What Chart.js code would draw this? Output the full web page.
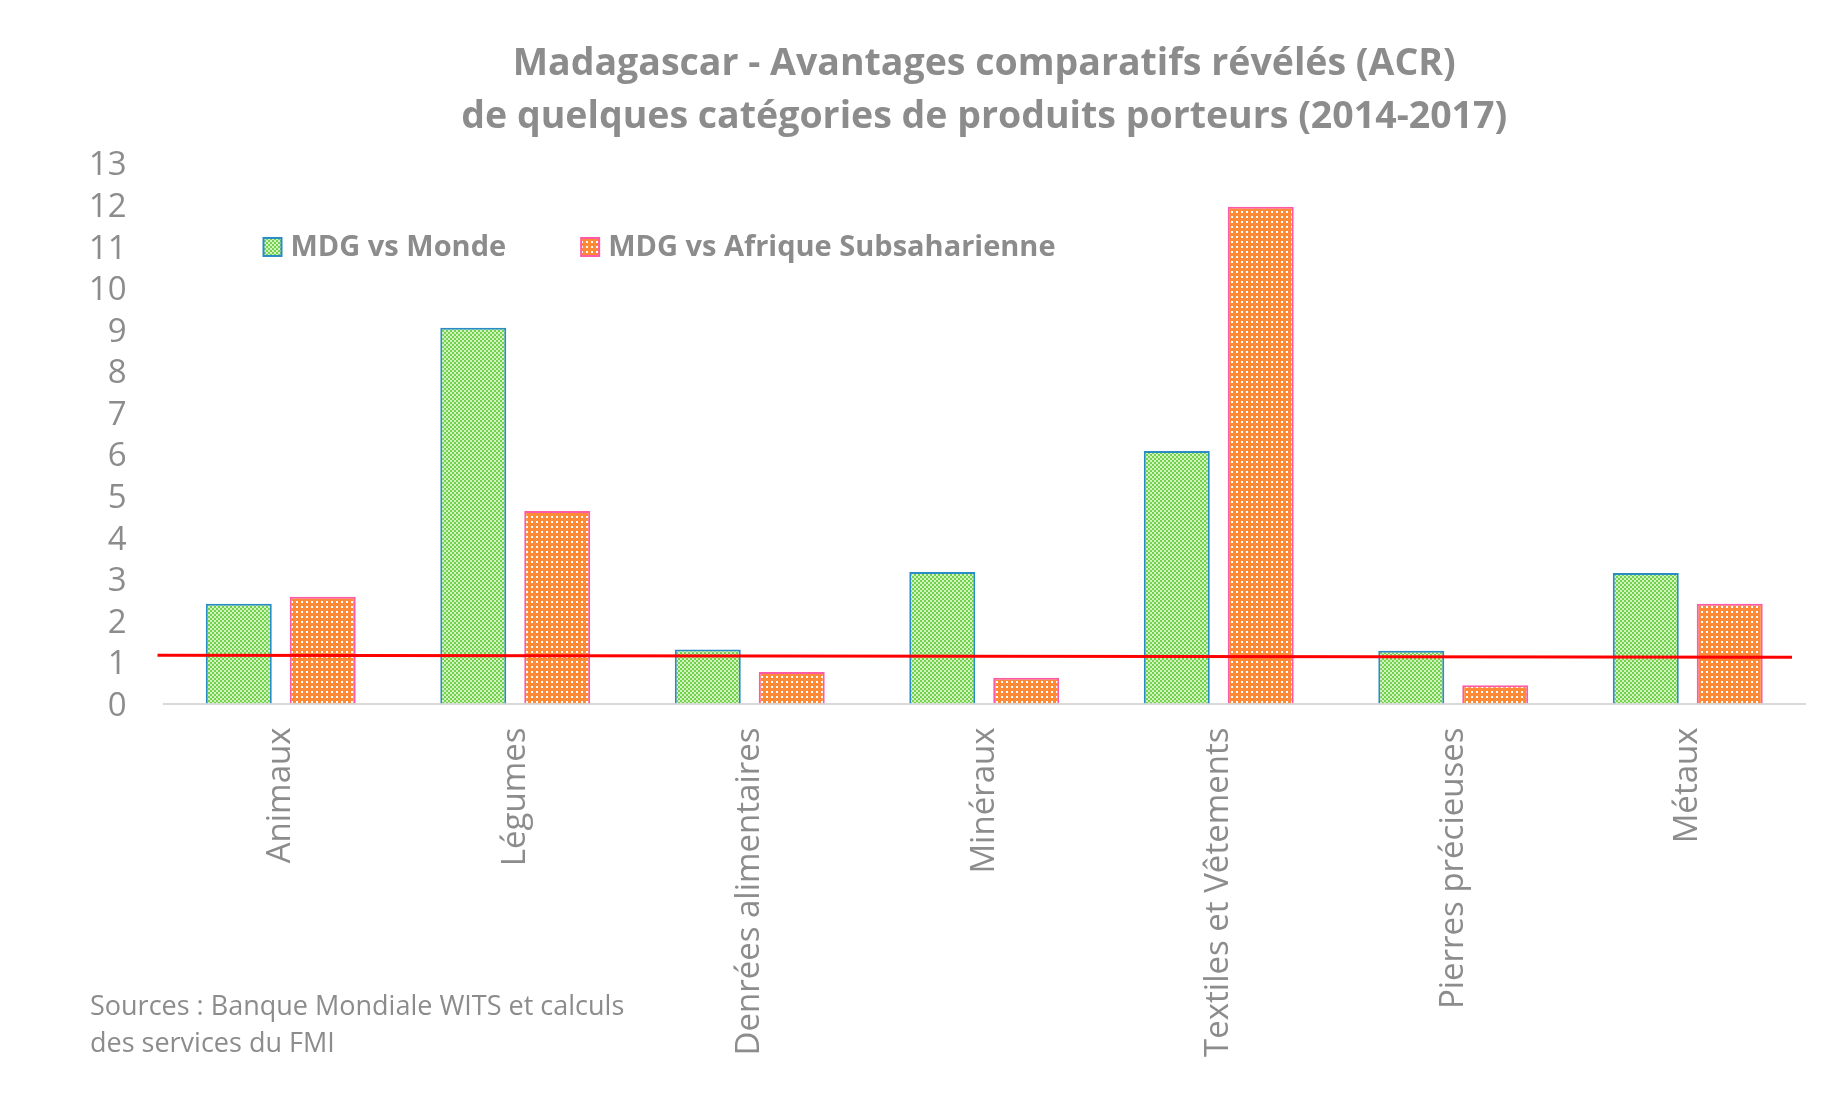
<!DOCTYPE html>
<html>
<head>
<meta charset="utf-8">
<script src="https://cdn.jsdelivr.net/npm/chart.js@4.4.1/dist/chart.umd.min.js"></script>
<style>
  body { margin: 0; background: #fff; }
  canvas { display: block; }
</style>
</head>
<body>
<canvas id="acr" width="1842" height="1105"></canvas>
<script>
const categories = ['Animaux', 'Légumes', 'Denrées alimentaires', 'Minéraux', 'Textiles et Vêtements', 'Pierres précieuses', 'Métaux'];
const mdgMonde = [2.40, 9.04, 1.30, 3.16, 6.07, 1.27, 3.14];
const mdgAfrique = [2.57, 4.63, 0.76, 0.62, 11.95, 0.44, 2.40];
const seriesLabels = ['MDG vs Monde', 'MDG vs Afrique Subsaharienne'];
const yMin = 0, yMax = 13, yStep = 1;
const refLine = [1.16, 1.11]; // red reference line, left end / right end
const titleLines = ['Madagascar - Avantages comparatifs révélés (ACR)', 'de quelques catégories de produits porteurs (2014-2017)'];
const sourceLines = ['Sources : Banque Mondiale WITS et calculs', 'des services du FMI'];

const grey = '#8c8c8c';
const font = 'Open Sans';

// fill patterns like the Excel ones
function makePattern(size, bg, fg, cells) {
  const c = document.createElement('canvas');
  c.width = size; c.height = size;
  const g = c.getContext('2d');
  g.fillStyle = bg;
  g.fillRect(0, 0, size, size);
  g.fillStyle = fg;
  cells.forEach(([x, y, w, h]) => g.fillRect(x, y, w, h));
  return g.createPattern(c, 'repeat');
}
const ctx = document.getElementById('acr').getContext('2d');
const greenFill = makePattern(4, '#d2f3bd', '#72d24e', [[0, 0, 2, 2], [2, 2, 2, 2]]);
const orangeFill = makePattern(5, '#ff8a36', '#ffffff', [[1, 1, 2, 2]]);

const refLinePlugin = {
  id: 'refLine',
  afterDatasetsDraw(chart) {
    const { ctx, chartArea, scales } = chart;
    ctx.save();
    ctx.strokeStyle = '#ff0000';
    ctx.lineWidth = 3;
    ctx.beginPath();
    ctx.moveTo(chartArea.left - 6, scales.y.getPixelForValue(refLine[0]));
    ctx.lineTo(chartArea.right - 13, scales.y.getPixelForValue(refLine[1]));
    ctx.stroke();
    ctx.restore();
  }
};

const legendPlugin = {
  id: 'insideLegend',
  afterDraw(chart) {
    const { ctx, chartArea } = chart;
    ctx.save();
    ctx.font = 'bold 29px "' + font + '"';
    ctx.textBaseline = 'middle';
    let x = chartArea.left + 100;
    const cy = chartArea.top + 84;
    chart.data.datasets.forEach(ds => {
      ctx.fillStyle = ds.backgroundColor;
      ctx.fillRect(x, cy - 9, 18, 18);
      ctx.strokeStyle = ds.borderColor;
      ctx.lineWidth = 2;
      ctx.strokeRect(x, cy - 9, 18, 18);
      ctx.fillStyle = grey;
      ctx.fillText(ds.label, x + 27, cy + 1);
      x += 27 + ctx.measureText(ds.label).width + 75;
    });
    // source note
    ctx.font = '27px "' + font + '"';
    ctx.fillStyle = grey;
    sourceLines.forEach((t, i) => ctx.fillText(t, 90, 1007 + i * 37));
    ctx.restore();
  }
};

new Chart(ctx, {
  type: 'bar',
  data: {
    labels: categories,
    datasets: [{
      label: seriesLabels[0],
      data: mdgMonde,
      backgroundColor: greenFill,
      borderColor: '#2a8cc4',
      borderWidth: 2
    }, {
      label: seriesLabels[1],
      data: mdgAfrique,
      backgroundColor: orangeFill,
      borderColor: '#ff5aa5',
      borderWidth: 2
    }]
  },
  options: {
    responsive: false,
    animation: false,
    categoryPercentage: 0.716,
    barPercentage: 0.786,
    layout: { padding: { left: 0, right: 37, top: 0, bottom: 0 } },
    plugins: {
      legend: { display: false },
      tooltip: { enabled: false },
      title: {
        display: true,
        text: titleLines,
        fullSize: false,
        color: grey,
        font: { family: font, size: 37.5, weight: 'bold', lineHeight: 1.413 },
        padding: { top: 38, bottom: 19 }
      }
    },
    scales: {
      x: {
        grid: { display: false, drawTicks: false },
        border: { display: true, color: '#d9d9d9', width: 2 },
        ticks: {
          color: grey,
          font: { family: font, size: 33 },
          minRotation: 90,
          maxRotation: 90,
          autoSkip: false,
          padding: 24
        },
        afterFit(scale) { scale.height = 401.5; }
      },
      y: {
        min: yMin,
        max: yMax,
        grid: { display: false, drawTicks: false },
        border: { display: false },
        ticks: {
          stepSize: yStep,
          autoSkip: false,
          color: grey,
          font: { family: font, size: 33 },
          padding: 37,
          labelOffset: 3
        },
        afterFit(scale) { scale.width = 163.5; }
      }
    }
  },
  plugins: [refLinePlugin, legendPlugin]
});
</script>
</body>
</html>
